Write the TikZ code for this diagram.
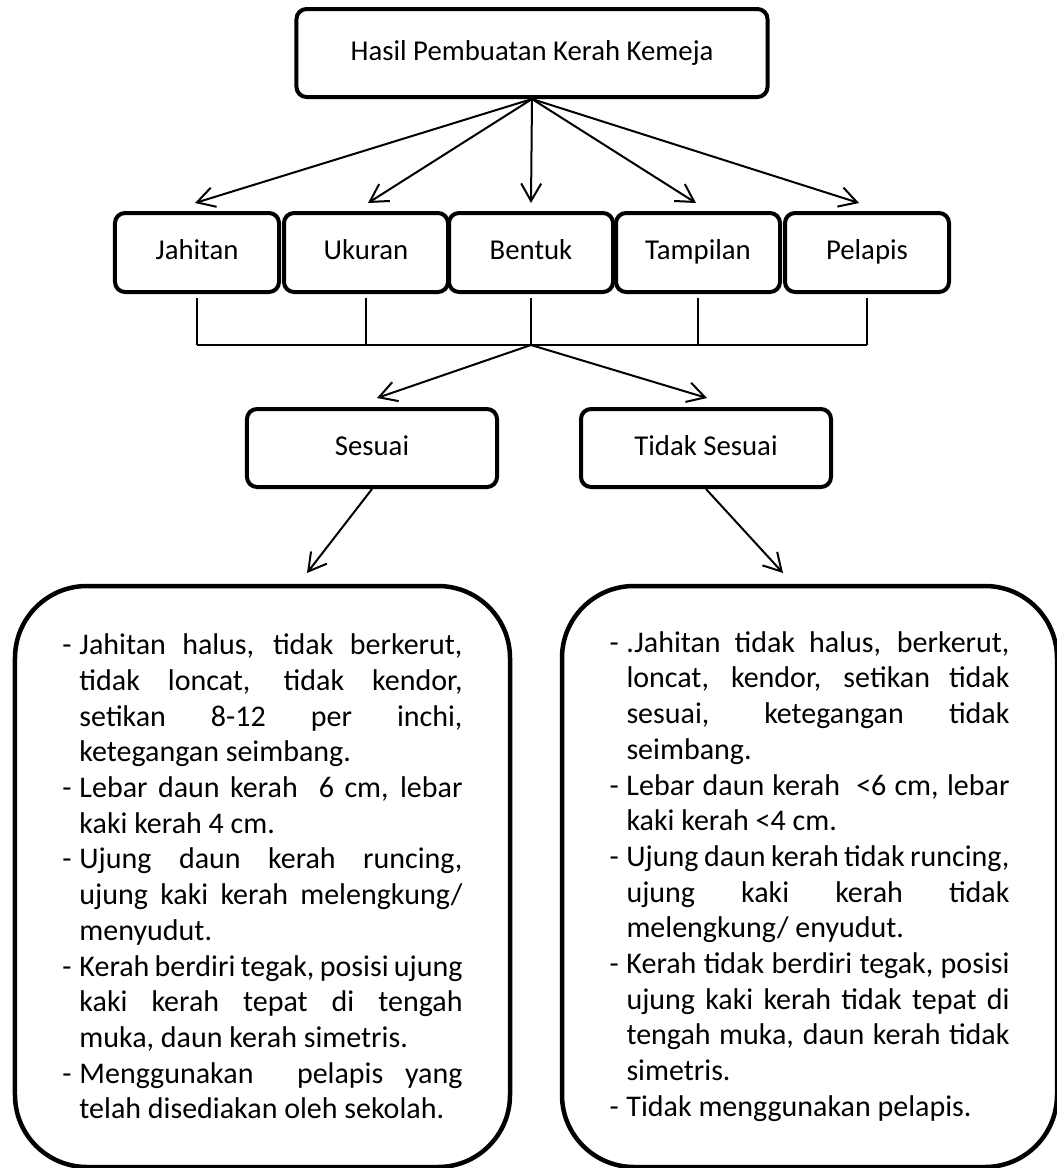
\documentclass[tikz,border=0pt]{standalone}
\usepackage{fontspec}
\setmainfont{Carlito}
\usetikzlibrary{arrows.meta}
\newcommand{\itm}[1]{\noindent\hangindent=6.8pt\hangafter=1\makebox[6.8pt][l]{-}#1\par}
\hyphenpenalty=10000
\exhyphenpenalty=10000
\hbadness=10000
\begin{document}
\begin{tikzpicture}[x=0.4pt, y=-0.4pt,
		kotak/.style={draw, line width=1.6pt, rounded corners=4pt, text height=8pt, text depth=2.4pt, font=\fontsize{11.5}{13.5}\selectfont},
		isi/.style={draw, line width=1.8pt, rounded corners=28.8pt, minimum width=198pt, minimum height=232.4pt, text width=160pt, align=justify, font=\fontsize{12}{14.28}\selectfont},
		panah/.style={-{Straight Barb[length=7pt,width=8pt]}, line width=0.8pt}]
	\useasboundingbox (0,0) rectangle (1056,1168);
	\node[kotak, minimum width=188.4pt, minimum height=35.2pt] (hasil) at (532,53) {Hasil Pembuatan Kerah Kemeja};
	\coordinate (br) at (531,345);
	\foreach \n/\x/\d/\t in {jah/197/-2/Jahitan, uku/366/2/Ukuran, ben/531/0/Bentuk, tam/698/-2/Tampilan, pel/867/-8/Pelapis}
	{
		\node[kotak, minimum width=65.6pt, minimum height=31.6pt] (\n) at (\x,252.5) {\t};
		\draw[panah] (hasil.south) -- ([shift={(\d,-8)}]\n.north);
		\draw[line width=0.5pt] ([yshift=-1.6pt]\n.south) -- (\n.south |- br);
	}
	\draw[line width=0.5pt] (jah.south |- br) -- (pel.south |- br);
	\node[kotak, minimum width=100pt, minimum height=31.2pt] (ses) at (372,448) {Sesuai};
	\node[kotak, minimum width=100pt, minimum height=31.2pt] (tdk) at (706,448) {Tidak Sesuai};
	\draw[panah] (br) -- ([shift={(5,-9)}]ses.north);
	\draw[panah] (br) -- ([shift={(1,-9)}]tdk.north);
	\coordinate (ujungkiri) at (307,573);
	\coordinate (ujungkanan) at (783,573);
	\draw[panah] (ses.south) -- (ujungkiri);
	\draw[panah] (tdk.south) -- (ujungkanan);
	\node[isi] (kiri) at (262.5,876.5) {
		\itm{Jahitan halus, tidak berkerut,\linebreak tidak loncat, tidak kendor,\linebreak setikan 8-12 per inchi,\linebreak ketegangan seimbang.}
		\itm{Lebar daun kerah\ \ 6 cm, lebar\linebreak kaki kerah 4 cm.}
		\itm{Ujung daun kerah runcing,\linebreak ujung kaki kerah melengkung/\linebreak menyudut.}
		\itm{Kerah berdiri tegak, posisi ujung\linebreak kaki kerah tepat di tengah\linebreak muka, daun kerah simetris.}
		\itm{Menggunakan\ \ pelapis yang\linebreak telah disediakan oleh sekolah.}
	};
	\node[isi] (kanan) at (809.5,876.5) {
		\itm{.Jahitan tidak halus, berkerut,\linebreak loncat, kendor, setikan tidak\linebreak sesuai, ketegangan tidak\linebreak seimbang.}
		\itm{Lebar daun kerah\ \ <6 cm, lebar\linebreak kaki kerah <4 cm.}
		\itm{Ujung daun kerah tidak runcing,\linebreak ujung kaki kerah tidak\linebreak melengkung/ enyudut.}
		\itm{Kerah tidak berdiri tegak, posisi\linebreak ujung kaki kerah tidak tepat di\linebreak tengah muka, daun kerah tidak\linebreak simetris.}
		\itm{Tidak menggunakan pelapis.}
	};
\end{tikzpicture}
\end{document}
